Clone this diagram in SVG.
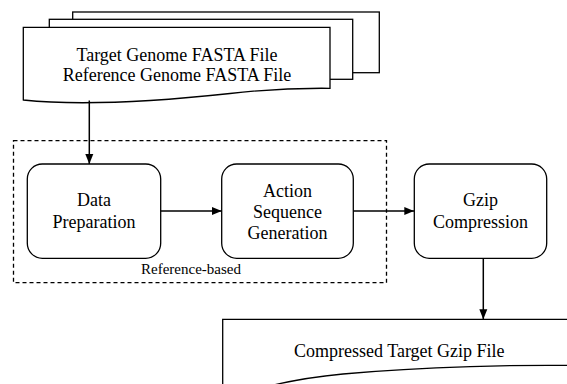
<svg xmlns="http://www.w3.org/2000/svg" width="567" height="384" viewBox="0 0 567 384" font-family="'Liberation Serif', 'Times New Roman', Times, serif">
<style>
  .shape { fill: #fff; stroke: #000; stroke-width: 1.3; }
  .txt { font-family: 'Liberation Serif', 'Times New Roman', Times, serif; font-size: 18px; fill: #000; text-anchor: middle; }
  .small { font-size: 15px; }
  .edge { fill: none; stroke: #000; stroke-width: 1.5; }
  .group { fill: none; stroke: #000; stroke-width: 1.3; stroke-dasharray: 4 3; }
</style>
<defs>
  <marker id="arrow" markerUnits="userSpaceOnUse" markerWidth="10" markerHeight="10" viewBox="0 0 10 10" refX="10" refY="5" orient="auto">
    <path d="M0,1 L10,5 L0,9 Z" fill="#000"/>
  </marker>
</defs>
<rect width="567" height="384" fill="#fff"/>

<g id="group-reference-based">
  <rect class="group" x="13.5" y="140.7" width="373" height="142"/>
  <text class="txt small" x="191" y="273.5">Reference-based</text>
</g>

<g id="node-input-files">
  <rect class="shape" x="72.7" y="12" width="306.6" height="60.7"/>
  <rect class="shape" x="49.3" y="19.3" width="303.4" height="60"/>
  <path class="shape" d="M23.3,27.3 H330 V88.3 C300,88 260,90 230,93.5 C160,101 80,106 23.3,100 Z"/>
  <text class="txt" x="177" y="60.5">Target Genome FASTA File</text>
  <text class="txt" x="177" y="81">Reference Genome FASTA File</text>
</g>

<g id="node-data-preparation">
  <rect class="shape" x="27.3" y="164" width="133.4" height="94.3" rx="15" ry="15"/>
  <text class="txt" x="94" y="206">Data</text>
  <text class="txt" x="94" y="228">Preparation</text>
</g>

<g id="node-action-sequence">
  <rect class="shape" x="221.7" y="164" width="131.6" height="94.3" rx="15" ry="15"/>
  <text class="txt" x="287.5" y="196.7">Action</text>
  <text class="txt" x="287.5" y="217.7">Sequence</text>
  <text class="txt" x="287.5" y="238.5">Generation</text>
</g>

<g id="node-gzip">
  <rect class="shape" x="414.3" y="164" width="132.4" height="94.3" rx="15" ry="15"/>
  <text class="txt" x="480.5" y="206">Gzip</text>
  <text class="txt" x="480.5" y="228">Compression</text>
</g>

<g id="node-output-file">
  <path class="shape" d="M222.7,400 V319.3 H600 V366 C520,364 420,367 343,374 C290,379 250,390 222.7,400 Z"/>
  <text class="txt" x="399.3" y="357">Compressed Target Gzip File</text>
</g>

<g id="connectors">
  <line class="edge" x1="89.3" y1="100.5" x2="89.3" y2="164" marker-end="url(#arrow)"/>
  <line class="edge" x1="160.7" y1="211" x2="221.7" y2="211" marker-end="url(#arrow)"/>
  <line class="edge" x1="353.3" y1="211" x2="414.3" y2="211" marker-end="url(#arrow)"/>
  <line class="edge" x1="483.3" y1="258.3" x2="483.3" y2="319.3" marker-end="url(#arrow)"/>
</g>
</svg>
